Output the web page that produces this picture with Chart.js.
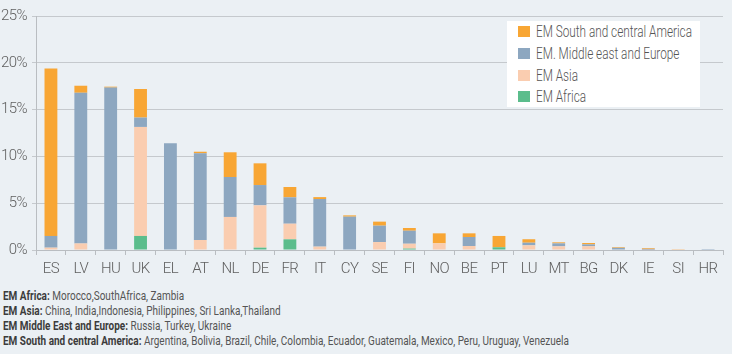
<!DOCTYPE html>
<html>
<head>
<meta charset="utf-8">
<script src="https://cdn.jsdelivr.net/npm/chart.js@4.4.1/dist/chart.umd.min.js"></script>
<style>
  html,body{margin:0;padding:0;background:#ebf0f4;}
  #wrap{position:relative;width:732px;height:354px;overflow:hidden;font-family:Roboto,"Liberation Sans",sans-serif;}
  #chartBox{position:absolute;left:0;top:0;width:732px;height:282px;}
  #legend{position:absolute;left:507px;top:21px;width:193px;height:86px;background:#fff;box-sizing:border-box;padding:0 0 0 11px;}
  #legend .item{display:flex;align-items:center;height:21.7px;font-size:16px;font-weight:300;color:#555;white-space:nowrap;}
  #legend .sw{flex:none;width:12px;height:11px;margin-right:6px;}
  #legend .tx{display:inline-block;transform-origin:0 50%;}
  #notes{position:absolute;left:3px;top:288px;font-size:13px;line-height:15px;color:#555;white-space:nowrap;transform-origin:0 0;}
  #notes b{color:#3c3c3c;font-weight:700;}
  #notes div{display:block;width:max-content;}
</style>
</head>
<body>
<div id="wrap">
  <div id="chartBox"><canvas id="c"></canvas></div>
  <div id="legend"></div>
  <div id="notes">
    <div><b>EM Africa:</b> Morocco,SouthAfrica, Zambia</div>
    <div><b>EM Asia:</b> China, India,Indonesia, Philippines, Sri Lanka,Thailand</div>
    <div><b>EM Middle East and Europe:</b> Russia, Turkey, Ukraine</div>
    <div id="lastNote"><b>EM South and central America:</b> Argentina, Bolivia, Brazil, Chile, Colombia, Ecuador, Guatemala, Mexico, Peru, Uruguay, Venezuela</div>
  </div>
</div>
<script>
const categories = ["ES","LV","HU","UK","EL","AT","NL","DE","FR","IT","CY","SE","FI","NO","BE","PT","LU","MT","BG","DK","IE","SI","HR"];
const emAfrica   = [0,    0,    0,     1.5,  0,    0,    0,    0.25, 1.14, 0,    0,    0,    0.15, 0,    0,    0.29, 0,    0,    0,    0,    0,    0,    0];
const emAsia     = [0.25, 0.7,  0,     11.65,0,    1.07, 3.53, 4.52, 1.67, 0.36, 0,    0.85, 0.52, 0.71, 0.43, 0,    0.5,  0.39, 0.4,  0.05, 0.02, 0.08, 0];
const emMEE      = [1.25, 16.1, 17.35, 1.0,  11.4, 9.26, 4.27, 2.17, 2.82, 5.09, 3.56, 1.75, 1.39, 0,    0.96, 0,    0.28, 0.32, 0.2,  0.18, 0.1,  0,    0.1];
const emSCA      = [17.9, 0.75, 0.1,   3.05, 0,    0.17, 2.64, 2.32, 1.1,  0.2,  0.14, 0.43, 0.29, 1.07, 0.39, 1.21, 0.37, 0.11, 0.15, 0.07, 0.08, 0.03, 0];
const yTicks = [0,5,10,15,20,25];
const seriesNames = ["EM Africa","EM Asia","EM. Middle east and Europe","EM South and central America"];
const seriesColors = ["#5bbd8c","#facdb0","#8da7c0","#f8a634"];

const font = 'Roboto,"Liberation Sans",sans-serif';
const seriesData = [emAfrica, emAsia, emMEE, emSCA];

const narrowText = {
  id: 'narrowText',
  beforeDraw(chart) { try { chart.ctx.letterSpacing = '-0.6px'; } catch(e) {} }
};

const chart = new Chart(document.getElementById('c'), {
  type: 'bar',
  data: {
    labels: categories,
    datasets: seriesData.map((d,i)=>({
      label: seriesNames[i],
      data: d,
      backgroundColor: seriesColors[i],
      borderWidth: 0,
      barPercentage: 0.43,
      categoryPercentage: 1.0
    }))
  },
  plugins: [narrowText],
  options: {
    responsive: true,
    maintainAspectRatio: false,
    animation: false,
    layout: { padding: { top: 16, right: 9, left: 0, bottom: 0 } },
    plugins: { legend: { display: false }, tooltip: { enabled: false } },
    scales: {
      x: {
        stacked: true,
        afterFit: s => { s.height = 32; },
        grid: { display: true, drawOnChartArea: false, offset: true, drawTicks: true, tickLength: 5, color: '#b9bdc1' },
        border: { display: true, color: '#b9bdc1' },
        ticks: { color: '#5f5f5f', font: { family: font, size: 15, weight: 300 }, padding: 5, maxRotation: 0, autoSkip: false }
      },
      y: {
        stacked: true,
        min: 0, max: 25,
        afterFit: s => { s.width = 36; },
        afterBuildTicks: s => { s.ticks = yTicks.map(v => ({ value: v })); },
        grid: { color: '#c5c9cd', drawTicks: true, tickLength: 4 },
        border: { display: true, color: '#b9bdc1' },
        ticks: { color: '#5f5f5f', font: { family: font, size: 15, weight: 300 }, padding: 5, callback: v => v + '%' }
      }
    }
  }
});

// HTML legend built from datasets (reversed order)
const lg = document.getElementById('legend');
const txs = [];
chart.data.datasets.slice().reverse().forEach(ds => {
  const it = document.createElement('div'); it.className = 'item';
  const sw = document.createElement('span'); sw.className = 'sw'; sw.style.background = ds.backgroundColor;
  const tx = document.createElement('span'); tx.className = 'tx'; tx.textContent = ds.label;
  it.appendChild(sw); it.appendChild(tx); lg.appendChild(it);
  txs.push(tx);
});
// condense text to the reference's narrow typeface widths
const lgScale = 156 / txs[0].offsetWidth;
txs.forEach(t => { t.style.transform = 'scaleX(' + lgScale + ')'; });
const notes = document.getElementById('notes');
const nScale = 566 / document.getElementById('lastNote').offsetWidth;
notes.style.transform = 'scaleX(' + nScale + ')';
</script>
</body>
</html>
